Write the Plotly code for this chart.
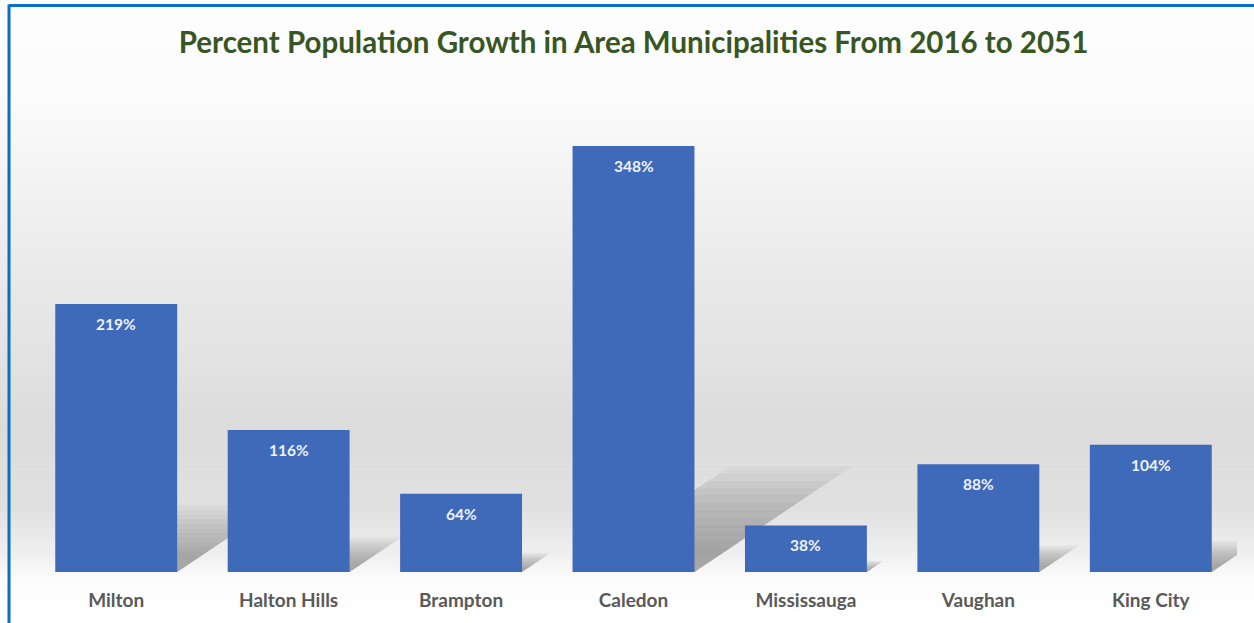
import plotly.graph_objects as go

# Percent population growth, 2016 -> 2051
municipalities = ["Milton", "Halton Hills", "Brampton", "Caledon",
                  "Mississauga", "Vaughan", "King City"]
growth_pct = [219, 116, 64, 348, 38, 88, 104]

W, H = 1254, 623
M_L, M_R, M_T, M_B = 30, 17, 80, 47
PLOT_W = W - M_L - M_R
PLOT_H = H - M_T - M_B
Y_MAX = 402
BAR_W = 0.707

x_idx = list(range(len(municipalities)))
x_range = [-0.5, len(municipalities) - 0.5]

fig = go.Figure()

# soft floor shadows cast up and to the right of each bar (base axes, drawn first)
px_per_cat = PLOT_W / len(municipalities)
px_per_val = PLOT_H / Y_MAX
n_layers = 12
for i, v in enumerate(growth_pct):
    h_px = v * px_per_val
    for k in range(n_layers):
        scale = 1.08 - 0.075 * k
        dx = 0.34 * h_px * scale / px_per_cat
        dy = 0.23 * v * scale
        xl, xr = i - BAR_W / 2, i + BAR_W / 2
        fig.add_trace(go.Scatter(
            x=[xl, xr, xr + dx, xl + dx, xl],
            y=[0, 0, dy, dy, 0],
            mode="lines", fill="toself",
            line=dict(width=0),
            fillcolor="rgba(110,110,110,0.06)",
            hoverinfo="skip", showlegend=False,
            xaxis="x", yaxis="y",
        ))

# bars on an overlaid axis pair so they sit on top of the shadows
fig.add_trace(go.Bar(
    x=x_idx, y=growth_pct, width=BAR_W,
    marker=dict(color="#3f69b9", line=dict(width=0)),
    showlegend=False, hoverinfo="skip",
    xaxis="x2", yaxis="y2",
))

for i, v in enumerate(growth_pct):
    fig.add_annotation(
        x=i, y=v, xref="x2", yref="y2", yshift=-20, text=f"{v}%",
        showarrow=False,
        font=dict(family="Lato", size=15.5, color="#eef2fa", weight="bold"),
    )

# vertical background gradient: white -> light grey -> white
def bg_color(py):
    stops = [(0, 253), (90, 252), (250, 236), (430, 220), (510, 224),
             (560, 240), (585, 252), (623, 255)]
    for (y0, c0), (y1, c1) in zip(stops, stops[1:]):
        if y0 <= py <= y1:
            t = (py - y0) / (y1 - y0)
            return round(c0 + (c1 - c0) * t)
    return 255

shapes = []
step = 4
for py in range(0, H, step):
    c = bg_color(py + step / 2)
    y_top = (H - M_B - py) / PLOT_H
    y_bot = (H - M_B - (py + step)) / PLOT_H
    shapes.append(dict(
        type="rect", xref="paper", yref="paper", layer="below",
        x0=-M_L / PLOT_W, x1=1 + M_R / PLOT_W,
        y0=y_bot, y1=y_top + 0.001,
        fillcolor=f"rgb({c},{c},{c})", line=dict(width=0),
    ))

# blue frame along top and left edges
shapes.append(dict(type="line", xref="paper", yref="paper", layer="above",
                   x0=(9 - M_L) / PLOT_W, x1=1 + M_R / PLOT_W,
                   y0=(H - M_B - 5) / PLOT_H, y1=(H - M_B - 5) / PLOT_H,
                   line=dict(color="#0a6fc4", width=3)))
shapes.append(dict(type="line", xref="paper", yref="paper", layer="above",
                   x0=(9 - M_L) / PLOT_W, x1=(9 - M_L) / PLOT_W,
                   y0=(H - M_B - 4) / PLOT_H, y1=-M_B / PLOT_H - 0.05,
                   line=dict(color="#0a6fc4", width=3)))

hidden_x = dict(range=x_range, showgrid=False, zeroline=False, showline=False,
                showticklabels=False, ticks="", fixedrange=True)
hidden_y = dict(range=[0, Y_MAX], visible=False, showgrid=False,
                zeroline=False, fixedrange=True)

fig.update_layout(
    width=W, height=H,
    margin=dict(l=M_L, r=M_R, t=M_T, b=M_B),
    paper_bgcolor="white", plot_bgcolor="rgba(0,0,0,0)",
    shapes=shapes,
    title=dict(
        text="Percent Population Growth in Area Municipalities From 2016 to 2051",
        x=0.5, xref="paper", xanchor="center", y=1 - 43 / H, yanchor="middle",
        font=dict(family="Lato", size=29.5, color="#375623", weight="bold"),
    ),
    xaxis=hidden_x,
    yaxis=hidden_y,
    xaxis2=dict(
        range=x_range, overlaying="x", anchor="y2",
        tickvals=x_idx, ticktext=municipalities,
        showgrid=False, zeroline=False, showline=False, ticks="",
        ticklabelstandoff=15,
        tickfont=dict(family="Lato", size=19, color="#595959", weight="bold"),
        fixedrange=True,
    ),
    yaxis2=dict(hidden_y, overlaying="y", anchor="x2"),
    bargap=0.293,
)

fig.write_html("out.html")
